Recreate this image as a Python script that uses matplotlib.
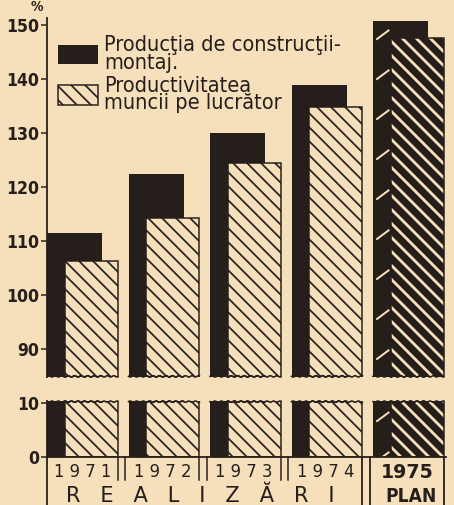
import numpy as np
import matplotlib
matplotlib.use("Agg")
from matplotlib import pyplot as plt
from matplotlib import font_manager as fm

# Data (percent, 1970 = 100)
years = ["1971", "1972", "1973", "1974", "1975"]
production = [111.5, 122.4, 130.0, 138.9, 150.7]
productivity = [106.3, 114.3, 124.4, 134.8, 147.6]
top_ticks = [90, 100, 110, 120, 130, 140, 150]
bottom_ticks = [0, 10]
label_production = "Producţia de construcţii-\nmontaj."
label_productivity = "Productivitatea\nmuncii pe lucrător"
caption_done = "REALIZĂRI"
caption_plan = "PLAN"

DPI = 84
W, H = 454, 505
BG = "#f6dfbb"
DARK = "#251e1b"


def pt(p):
  # pixels -> points
  return p * 72.0 / DPI


def pick_narrow_font():
  """Finds an installed condensed face, else plain DejaVu Sans."""
  try:
    path = fm.findfont(fm.FontProperties(family="DejaVu Sans",
                                         stretch="condensed"),
                       fallback_to_default=False)
    if "ondensed" in path:
      return {"family": "DejaVu Sans", "stretch": "condensed"}
  except ValueError:
    pass
  for name in ["Liberation Sans Narrow", "Roboto Condensed",
               "Open Sans Condensed", "Noto Sans Condensed"]:
    try:
      fm.findfont(fm.FontProperties(family=name), fallback_to_default=False)
      return {"family": name}
    except ValueError:
      continue
  return {"family": "DejaVu Sans"}


NARROW = pick_narrow_font()

plt.rcParams["hatch.linewidth"] = pt(1.7)
fig = plt.figure(figsize=(W / DPI, H / DPI), dpi=DPI, facecolor=BG)
renderer = fig.canvas.get_renderer()


def fit_size(text, target_px, size_px, **kw):
  # shrink/grow a font so the text is target_px wide
  t = fig.text(0, 0, text, fontsize=pt(size_px), **kw)
  w = t.get_window_extent(renderer).width
  t.remove()
  return size_px * target_px / w


left, width = 47 / W, 399 / W
ax_top = fig.add_axes([left, (H - 377) / H, width, (377 - 18) / H])
ax_bot = fig.add_axes([left, (H - 457) / H, width, (457 - 401) / H])

x = np.arange(len(years))
dark_w, hatch_off, hatch_w = 0.675, 0.22, 0.65

for ax in (ax_top, ax_bot):
  ax.set_facecolor(BG)
  ax.bar(x, production, dark_w, align="edge", color=DARK, edgecolor=DARK,
         linewidth=0, label=label_production)
  hatched = ax.bar(x + hatch_off, productivity, hatch_w, align="edge",
                   facecolor=BG, edgecolor=DARK, hatch="\\\\",
                   linewidth=pt(1.5), label=label_productivity)
  # plan year: reversed hatch (light stripes on dark)
  p = hatched[-1]
  p.set_facecolor(DARK)
  p.set_edgecolor(BG)
  p.set_linewidth(0)
  if hasattr(p, "set_hatch_linewidth"):
    p.set_hatch_linewidth(pt(2.8))
  ax.bar(x[-1:] + hatch_off, productivity[-1:], hatch_w, align="edge",
         fill=False, edgecolor=DARK, linewidth=pt(1.5))
  ax.set_xlim(0, 399 / 81.5)
  ax.set_xticks([])
  for s in ("top", "right"):
    ax.spines[s].set_visible(False)
  ax.spines["left"].set_linewidth(pt(1.8))
  ax.spines["left"].set_color(DARK)
  ax.tick_params(axis="y", direction="out", length=pt(6), width=pt(1.5),
                 pad=pt(2), colors=DARK)

ax_top.set_ylim(84.8, 151.3)
ax_top.set_yticks(top_ticks)
ax_top.spines["bottom"].set_visible(False)
ax_bot.set_ylim(0, 10.4)
ax_bot.set_yticks(bottom_ticks)
ax_bot.spines["bottom"].set_linewidth(pt(1.8))
ax_bot.spines["bottom"].set_color(DARK)
for ax in (ax_top, ax_bot):
  for lab in ax.get_yticklabels():
    lab.set_fontproperties(fm.FontProperties(size=pt(17.5), weight="bold",
                                             **NARROW))

# sparse light slashes on the plan bar, 40 px apart
slash_step = 40 / 5.4
for ax, lo in ((ax_top, 84.8), (ax_bot, 0)):
  for yy in np.arange(production[-1] - 2.5, lo - 2, -slash_step):
    ax.plot([x[-1] + 0.04, x[-1] + 0.2], [yy - 0.9, yy + 0.9], color=BG,
            lw=pt(2), solid_capstyle="butt")

# wavy cut edges where the axis is broken
for ax, cut, side in ((ax_top, 84.8, 1), (ax_bot, 10.4, -1)):
  for i in range(len(years)):
    for x0, w in ((x[i], dark_w), (x[i] + hatch_off, hatch_w)):
      xs = np.linspace(x0, x0 + w, 60)
      ys = cut + side * 0.12 * (1 + np.sin(xs * 2 * np.pi / 0.08))
      ax.plot(xs, ys, color=DARK, lw=pt(1.6), clip_on=False)

# legend
leg_px = fit_size("Producţia de construcţii-", 237, 22, **NARROW)
handles, labels = ax_top.get_legend_handles_labels()
leg = ax_top.legend(handles[:2], labels[:2], loc="upper left",
                    bbox_to_anchor=(11 / 399, 1 - 17 / 359), frameon=False,
                    borderpad=0, borderaxespad=0, handlelength=40 / leg_px,
                    handleheight=22 / leg_px, handletextpad=6 / leg_px,
                    labelspacing=0.15,
                    prop=fm.FontProperties(size=pt(leg_px), **NARROW))
for t in leg.get_texts():
  t.set_color(DARK)
  t.set_linespacing(0.85)

# table under the axis: separators, years and the two group captions
tr = ax_bot.get_xaxis_transform()
px_y = 1 / 56.0
seps_short = []
seps_long = [0.0]
for i in range(len(years) - 1):
  right_edge = x[i] + hatch_off + hatch_w
  next_edge = x[i + 1] - 0.04
  if i < len(years) - 2:
    seps_short += [right_edge, next_edge]
  else:
    seps_long += [right_edge, next_edge]
seps_long.append(x[-1] + hatch_off + hatch_w)
for sx in seps_short:
  ax_bot.plot([sx, sx], [0, -23 * px_y], color=DARK, lw=pt(1.5),
              transform=tr, clip_on=False)
for sx in seps_long:
  ax_bot.plot([sx, sx], [0, -60 * px_y], color=DARK, lw=pt(1.8),
              transform=tr, clip_on=False)

for i, yr in enumerate(years):
  cx = x[i] + (hatch_off + hatch_w - 0.04) / 2 + (0.02 if i == 0 else 0)
  if i < len(years) - 1:
    ax_bot.text(cx, -15 * px_y, " ".join(yr), transform=tr, ha="center",
                va="center", fontsize=pt(16.5), color=DARK,
                family="DejaVu Sans")
  else:
    ax_bot.text(cx, -15 * px_y, yr, transform=tr, ha="center", va="center",
                fontsize=pt(19), color=DARK, fontweight="bold",
                family="DejaVu Sans")

ax_bot.text(seps_long[1] / 2 - 0.06, -39 * px_y, "   ".join(caption_done),
            transform=tr, ha="center", va="center", fontsize=pt(21),
            color=DARK, family="DejaVu Sans")
ax_bot.text(x[-1] + (hatch_off + hatch_w - 0.04) / 2 + 0.05, -39 * px_y,
            caption_plan, transform=tr, ha="center", va="center",
            fontproperties=fm.FontProperties(size=pt(19), weight="bold",
                                             **NARROW), color=DARK)

fig.text(37 / W, 1 - 7 / H, "%", ha="center", va="center",
         fontproperties=fm.FontProperties(size=pt(14), weight="bold",
                                          **NARROW), color=DARK)

fig.savefig("out.png", dpi=DPI, facecolor=BG)
